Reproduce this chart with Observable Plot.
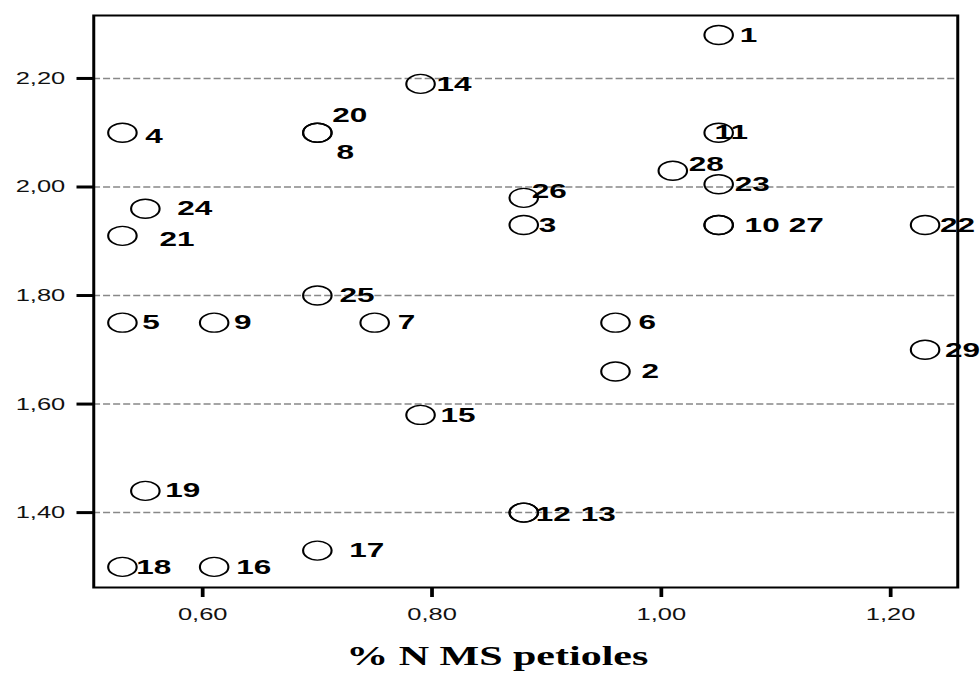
<!DOCTYPE html>
<html>
<head>
<meta charset="utf-8">
<script src="https://cdn.jsdelivr.net/npm/d3@7"></script>
<script src="https://cdn.jsdelivr.net/npm/@observablehq/plot@0.6"></script>
<style>
  html, body { margin: 0; padding: 0; background: #fff; }
  #wrap { width: 980px; height: 677px; overflow: hidden; position: relative; }
  #wrap svg { position: absolute; left: 0; top: 0; transform: scaleX(1.5); transform-origin: 0 0; }
</style>
</head>
<body>
<div id="wrap"></div>
<script>
// Data
const ids = [1, 2, 3, 4, 5, 6, 7, 8, 9, 10, 11, 12, 13, 14, 15, 16, 17, 18, 19, 20, 21, 22, 23, 24, 25, 26, 27, 28, 29];
const nPetioles = [1.05, 0.96, 0.88, 0.53, 0.53, 0.96, 0.75, 0.70, 0.61, 1.05, 1.05, 0.88, 0.88, 0.79, 0.79, 0.61, 0.70, 0.53, 0.55, 0.70, 0.53, 1.23, 1.05, 0.55, 0.70, 0.88, 1.05, 1.01, 1.23];
const yValues   = [2.28, 1.66, 1.93, 2.10, 1.75, 1.75, 1.75, 2.10, 1.75, 1.93, 2.10, 1.40, 1.40, 2.19, 1.58, 1.30, 1.33, 1.30, 1.44, 2.10, 1.91, 1.93, 2.005, 1.96, 1.80, 1.98, 1.93, 2.03, 1.70];
const xTicks = [0.6, 0.8, 1.0, 1.2];
const yTicks = [1.4, 1.6, 1.8, 2.0, 2.2];
const xLabel = "% N MS petioles";

// Label placement (layout only, in unstretched px): [dx, dy]
const labelNudge = {
  1: [14, 0], 2: [17.3, 0], 3: [10, 0], 4: [15.3, 4], 5: [13.3, 0], 6: [15.3, 0], 7: [15.3, 0],
  8: [12.7, 20], 9: [13.3, 0], 10: [17.3, 0], 11: [-2.7, 0], 12: [8, 2], 13: [38, 2], 14: [10.7, 0],
  15: [13.3, 0], 16: [14.7, 0], 17: [21.3, 0], 18: [9.3, 0], 19: [13.3, -1], 20: [10, -17],
  21: [24.7, 3], 22: [10, 0], 23: [10.7, 0], 24: [21.3, 0], 25: [14.7, 0], 26: [5.3, -7],
  27: [46.7, 0], 28: [10.7, -6], 29: [13.3, 0]
};

const data = ids.map((id, i) => ({id, x: nPetioles[i], y: yValues[i]}));
const fmt = d => d.toFixed(2).replace(".", ",");

const labelMarks = data.map(d => Plot.text([d], {
  x: "x", y: "y", text: d => String(d.id),
  dx: labelNudge[d.id][0], dy: labelNudge[d.id][1],
  textAnchor: "start", fontWeight: "bold", fontSize: 21,
  fontFamily: "Liberation Sans, Arial, sans-serif", fill: "#000"
}));

const chart = Plot.plot({
  width: 653,
  height: 677,
  marginLeft: 62,
  marginRight: 15,
  marginTop: 15,
  marginBottom: 90,
  style: {fontFamily: "Liberation Sans, Arial, sans-serif", background: "#fff", overflow: "visible"},
  x: {domain: [0.505, 1.2585]},
  y: {domain: [1.262, 2.316]},
  marks: [
    Plot.gridY(yTicks, {stroke: "#888", strokeOpacity: 1, strokeWidth: 1.5, strokeDasharray: "4.7,2"}),
    Plot.frame({stroke: "#000", strokeWidth: 2}),
    Plot.axisY(yTicks, {tickFormat: fmt, tickSize: 11, tickPadding: 8, strokeWidth: 3, fontSize: 17, fill: "#111", label: null}),
    Plot.axisX(xTicks, {tickFormat: fmt, tickSize: 10, tickPadding: 10, strokeWidth: 2.5, fontSize: 17, fill: "#111", label: null}),
    Plot.dot(data, {x: "x", y: "y", r: 9.5, stroke: "#000", strokeWidth: 1.4, fill: "none"}),
    ...labelMarks,
    Plot.text([xLabel], {frameAnchor: "bottom", text: d => d, dx: -19, dy: 77,
      fontFamily: "Liberation Serif, Times New Roman, serif", fontWeight: "bold", fontSize: 28, fill: "#000"})
  ]
});

document.getElementById("wrap").appendChild(chart);
</script>
</body>
</html>
